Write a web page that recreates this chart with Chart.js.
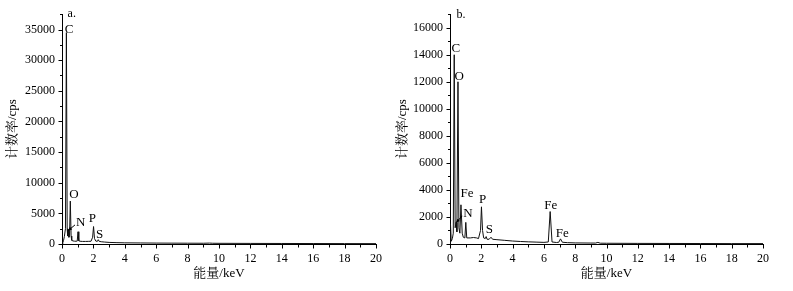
<!DOCTYPE html>
<html><head><meta charset="utf-8">
<script src="https://cdn.jsdelivr.net/npm/chart.js@4/dist/chart.umd.min.js"></script>
<style>
html,body{margin:0;padding:0;background:#fff;overflow:hidden}
#ca{position:absolute;left:0;top:0}
#cb{position:absolute;left:390px;top:0}
</style></head><body>
<canvas id="ca" width="390" height="291"></canvas>
<canvas id="cb" width="403" height="291"></canvas>
<script>
// ---------- data (panel a) ----------
const energyA = [0,0.05,0.1,0.15,0.22,0.28,0.33,0.36,0.40,0.44,0.48,0.53,0.58,0.62,0.7,0.8,0.9,0.97,1.02,1.07,1.15,1.3,1.5,1.7,1.85,1.95,2.01,2.07,2.15,2.25,2.31,2.37,2.5,2.7,3.0,3.5,4,5,6,7,8,9,9.4,9.6,10,12,14,16,18,20];
const countsA = [0,200,600,1200,2500,34500,2500,1300,2400,1100,1400,7000,1300,600,500,460,450,480,2000,520,450,420,420,430,450,1100,2850,900,480,430,700,430,370,320,260,220,190,170,150,140,130,120,150,120,110,95,85,75,65,60];
const peakLabelsA = ['C','O','N','P','S'];
const peakLabelXA = [0.45,0.76,1.19,1.93,2.4];
const peakLabelYA = [34950,8090,3500,4200,1500];
const arrowA = {fromX:0.83, fromY:3120, toX:0.40, toY:2200};
const panelA = {text:'a.', x:0.62, y:37600};
const yTicksA = {max:37500, major:5000, minor:2500};

// ---------- data (panel b) ----------
const energyB = [0,0.03,0.08,0.15,0.21,0.27,0.33,0.39,0.44,0.51,0.57,0.63,0.70,0.78,0.85,0.95,1.01,1.07,1.3,1.5,1.7,1.82,1.95,2.01,2.08,2.15,2.25,2.31,2.37,2.5,2.62,2.72,3.0,3.5,4,4.5,5,5.5,6,6.28,6.4,6.52,6.8,6.95,7.06,7.18,7.5,8,9,9.3,9.45,9.6,10,12,14,16,18,20];
const countsB = [0,1500,200,400,800,14000,1200,1600,900,12000,1200,800,2900,800,500,450,1600,450,450,480,450,400,1000,2750,1000,450,400,550,350,350,500,350,320,270,220,185,160,140,120,150,2400,150,110,130,380,130,100,80,70,70,120,60,55,45,40,35,30,30];
const peakLabelsB = ['C','O','Fe','N','P','S','Fe','Fe'];
const peakLabelXB = [0.38,0.59,1.08,1.15,2.08,2.51,6.44,7.18];
const peakLabelYB = [14460,12375,3750,2280,3260,1050,2820,735];
const arrowB = {fromX:0.78, fromY:2080, toX:0.40, toY:1590};
const panelB = {text:'b.', x:0.70, y:16985};
const yTicksB = {max:17000, major:2000, minor:1000};

const xTicks = {max:20, major:2, minor:1};
const yTitle = '计数率/cps';
const xTitle = '能量/keV';

const SERIF = '"Liberation Serif","Times New Roman","Noto Serif CJK SC","Noto Sans CJK SC",serif';

const annot = {
  id:'annot',
  afterDraw(chart, args, o){
    const ctx = chart.ctx, xs = chart.scales.x, ys = chart.scales.y;
    ctx.save();
    ctx.strokeStyle = '#000'; ctx.lineWidth = 1;
    const L = Math.round(xs.left)+0.5, B = Math.round(ys.bottom)+0.5;
    for (let v = 0; v <= o.yt.max + 1e-6; v += o.yt.minor) {
      const py = Math.round(ys.getPixelForValue(v))+0.5;
      const len = (Math.abs(v % o.yt.major) < 1e-6) ? 4 : 2.5;
      ctx.beginPath(); ctx.moveTo(L-len, py); ctx.lineTo(L, py); ctx.stroke();
    }
    for (let v = 0; v <= xTicks.max + 1e-6; v += xTicks.minor) {
      const px = Math.round(xs.getPixelForValue(v))+0.5;
      const len = (Math.abs(v % xTicks.major) < 1e-6) ? 4 : 3;
      ctx.beginPath(); ctx.moveTo(px, B); ctx.lineTo(px, B+len); ctx.stroke();
    }
    ctx.fillStyle = '#000';
    ctx.font = '13px ' + SERIF;
    ctx.textAlign = 'center'; ctx.textBaseline = 'middle';
    o.labels.forEach((t,i)=>{
      ctx.fillText(t, xs.getPixelForValue(o.lx[i]), ys.getPixelForValue(o.ly[i]));
    });
    ctx.font = '12px ' + SERIF;
    ctx.fillText(o.panel.text, xs.getPixelForValue(o.panel.x), ys.getPixelForValue(o.panel.y));
    const ax1 = xs.getPixelForValue(o.arrow.fromX), ay1 = ys.getPixelForValue(o.arrow.fromY);
    const ax2 = xs.getPixelForValue(o.arrow.toX), ay2 = ys.getPixelForValue(o.arrow.toY);
    ctx.beginPath(); ctx.moveTo(ax1,ay1); ctx.lineTo(ax2,ay2); ctx.stroke();
    const ang = Math.atan2(ay2-ay1, ax2-ax1), h = 4;
    ctx.beginPath();
    ctx.moveTo(ax2,ay2);
    ctx.lineTo(ax2 - h*Math.cos(ang-0.45), ay2 - h*Math.sin(ang-0.45));
    ctx.lineTo(ax2 - h*Math.cos(ang+0.45), ay2 - h*Math.sin(ang+0.45));
    ctx.closePath(); ctx.fill();
    ctx.restore();
  }
};

function makeChart(id, ex, cy, yt, labels, lx, ly, arrow, panel, yWidth, padRight) {
  return new Chart(document.getElementById(id), {
    type:'line',
    data:{datasets:[{
      data: ex.map((e,i)=>({x:e, y:cy[i]})),
      borderColor:'#111', borderWidth:1, pointRadius:0, tension:0, fill:false
    }]},
    options:{
      responsive:false, animation:false,
      layout:{padding:{left:0, right:padRight, top:13, bottom:0}},
      plugins:{legend:{display:false}, tooltip:{enabled:false},
        annot:{yt, labels, lx, ly, arrow, panel}},
      scales:{
        x:{type:'linear', min:0, max:xTicks.max,
          afterFit(s){ s.height = 47; },
          ticks:{stepSize:xTicks.major, includeBounds:false, color:'#000', padding:8, maxRotation:0,
            maxTicksLimit:100, callback:(v)=>String(v), font:{family:SERIF, size:12}},
          grid:{display:false, drawTicks:false}, border:{display:true, color:'#000', width:1},
          title:{display:true, text:xTitle, color:'#000', font:{family:SERIF, size:13}, padding:{top:2,bottom:10}}
        },
        y:{type:'linear', min:0, max:yt.max,
          afterFit(s){ s.width = yWidth; },
          ticks:{stepSize:yt.minor, includeBounds:false, color:'#000', padding:7, maxTicksLimit:100,
            callback:(v)=> (Math.abs(v % yt.major) < 1e-6 ? String(v) : ''),
            font:{family:SERIF, size:12}},
          grid:{display:false, drawTicks:false}, border:{display:true, color:'#000', width:1},
          title:{display:true, text:yTitle, color:'#000', font:{family:SERIF, size:13}, padding:{top:5,bottom:0}}
        }
      }
    },
    plugins:[annot]
  });
}

makeChart('ca', energyA, countsA, yTicksA, peakLabelsA, peakLabelXA, peakLabelYA, arrowA, panelA, 62, 14);
makeChart('cb', energyB, countsB, yTicksB, peakLabelsB, peakLabelXB, peakLabelYB, arrowB, panelB, 60, 30);
</script>
</body></html>
